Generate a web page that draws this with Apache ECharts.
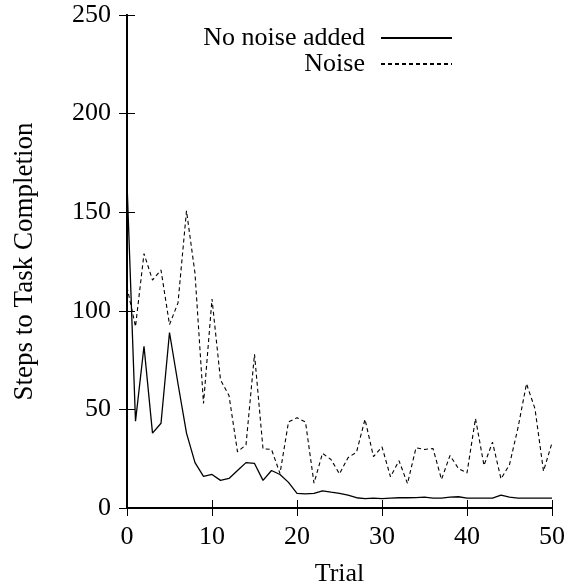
<!DOCTYPE html>
<html>
<head>
<meta charset="utf-8">
<script src="https://cdn.jsdelivr.net/npm/echarts@6/dist/echarts.min.js"></script>
<style>
html, body { margin: 0; padding: 0; background: #fff; }
#chart { width: 571px; height: 586px; }
</style>
</head>
<body>
<div id="chart"></div>
<script>
// trial numbers 0..50
var trials = [];
for (var t = 0; t <= 50; t++) trials.push(t);

var noNoise = [165, 44, 82, 38, 43, 89, 63, 38, 23, 16, 17, 14, 15, 19, 23, 22.6, 14, 19, 17, 13,
	7.4, 7.2, 7.4, 8.7, 8, 7.4, 6.5, 5.2, 4.8, 5, 4.8, 5, 5.2, 5.2, 5.3, 5.5, 5, 5, 5.5, 5.7,
	5, 5, 5, 5, 6.5, 5.5, 5, 5, 5, 5, 5];
var noise = [112, 92, 129, 115.6, 120.7, 93, 104, 150.7, 119, 53, 106, 65, 57, 28.5, 32, 78, 30, 29.7, 17.5, 43.6,
	45.8, 43.6, 12.6, 27.7, 24.6, 17.3, 25.5, 28.3, 45, 26, 31, 15.8, 24, 12.4, 30.5, 29.7, 30.2, 14.5, 26.6, 20,
	17.8, 45.4, 21.6, 33.4, 14.8, 22, 40.7, 63, 50.3, 18.7, 33];

var yTicks = [0, 50, 100, 150, 200, 250];
var xTicks = [0, 10, 20, 30, 40, 50];

function pairs(ys) {
	return trials.map(function (x, i) { return [x, ys[i]]; });
}

var font = 'Liberation Serif';
var legendText = { fontFamily: font, fontSize: 26, color: '#000', padding: [0, 11, 0, 0] };
var myChart = echarts.init(document.getElementById('chart'));
var option = {
	animation: false,
	backgroundColor: '#fff',
	grid: { left: 127, right: 19, top: 15, bottom: 78, outerBoundsMode: 'none' },
	legend: [{
		data: ['No noise added'],
		right: 113, top: 20,
		align: 'right', orient: 'vertical',
		itemWidth: 71, itemHeight: 14,
		itemStyle: { color: 'transparent', borderWidth: 0 },
		textStyle: legendText
	}, {
		data: ['Noise'],
		right: 113, top: 46,
		align: 'right', orient: 'vertical',
		itemWidth: 71, itemHeight: 14,
		itemStyle: { color: 'transparent', borderWidth: 0 },
		textStyle: legendText
	}],
	xAxis: [{
		type: 'value', min: 0, max: 50, interval: 10,
		name: 'Trial', nameLocation: 'middle', nameGap: 53,
		nameTextStyle: { fontFamily: font, fontSize: 26, color: '#000' },
		axisLine: { lineStyle: { color: '#000', width: 2 } },
		axisTick: { inside: true, length: 8, lineStyle: { color: '#000', width: 1 } },
		axisLabel: { fontFamily: font, fontSize: 26, color: '#000', margin: 16,
			formatter: function (v) { return xTicks.indexOf(v) >= 0 ? v : ''; } },
		splitLine: { show: false }
	}, {
		type: 'value', min: 0, max: 50, interval: 10, position: 'top',
		axisLine: { lineStyle: { color: '#000', width: 2 } },
		axisTick: { inside: true, length: 8, lineStyle: { color: '#000', width: 1 } },
		axisLabel: { show: false },
		splitLine: { show: false }
	}],
	yAxis: [{
		type: 'value', min: 0, max: 250, interval: 50,
		name: 'Steps to Task Completion', nameLocation: 'middle', nameGap: 89,
		nameTextStyle: { fontFamily: font, fontSize: 27, color: '#000' },
		axisLine: { show: true, lineStyle: { color: '#000', width: 2 } },
		axisTick: { show: true, inside: true, length: 8, lineStyle: { color: '#000', width: 1 } },
		axisLabel: { fontFamily: font, fontSize: 26, color: '#000', margin: 16,
			formatter: function (v) { return yTicks.indexOf(v) >= 0 ? v : ''; } },
		splitLine: { show: false }
	}, {
		type: 'value', min: 0, max: 250, interval: 50, position: 'right',
		axisLine: { show: true, lineStyle: { color: '#000', width: 2 } },
		axisTick: { show: true, inside: true, length: 8, lineStyle: { color: '#000', width: 1 } },
		axisLabel: { show: false },
		splitLine: { show: false }
	}],
	series: [{
		name: 'No noise added',
		type: 'line',
		symbol: 'none',
		data: pairs(noNoise),
		lineStyle: { color: '#000', width: 1.3 },
		itemStyle: { color: '#000' }
	}, {
		name: 'Noise',
		type: 'line',
		symbol: 'none',
		data: pairs(noise),
		lineStyle: { color: '#000', width: 1.1, type: [4, 3] },
		itemStyle: { color: '#000' }
	}]
};
myChart.setOption(option);
</script>
</body>
</html>
